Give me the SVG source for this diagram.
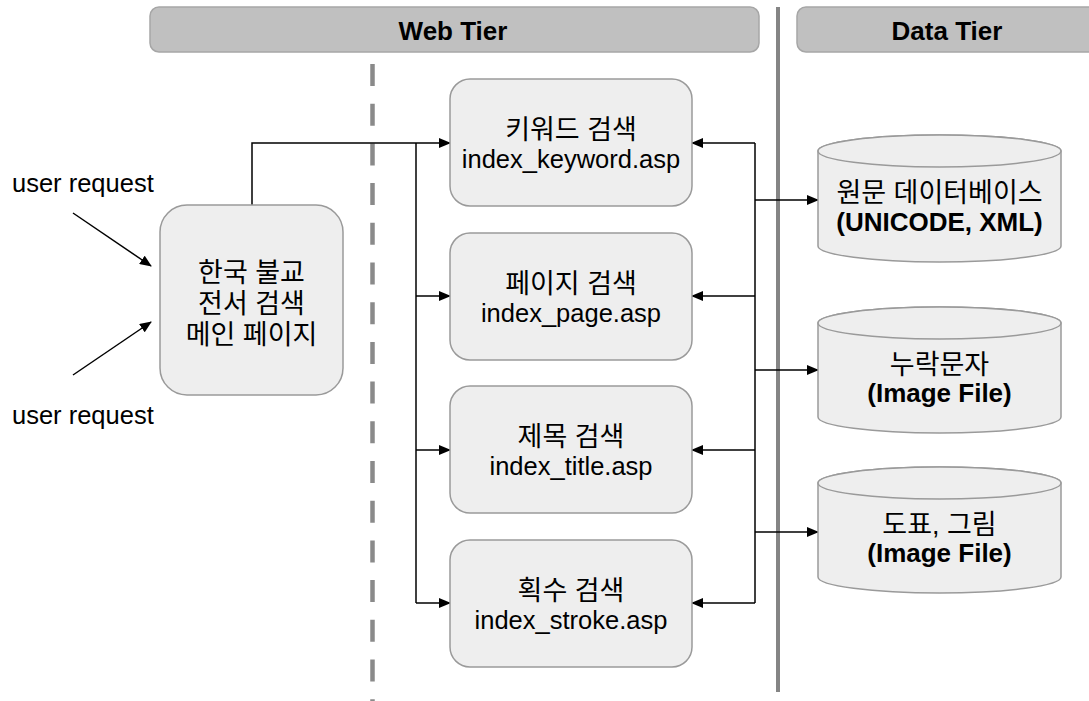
<svg xmlns="http://www.w3.org/2000/svg" width="1089" height="701" viewBox="0 0 1089 701">
<defs>
<style>
.bar{fill:#c0c0c0;stroke:#a6a6a6;stroke-width:1.5}
.hdr{font-family:"Liberation Sans",Arial,sans-serif;font-weight:bold;font-size:26px;fill:#000;text-anchor:middle}
.box{fill:#eeeeee;stroke:#9a9a9a;stroke-width:1.5}
.kt{font-family:"Liberation Sans","Noto Sans CJK KR",sans-serif;font-size:27px;fill:#000;text-anchor:middle}
.at{font-family:"Liberation Sans",Arial,sans-serif;font-size:25.5px;fill:#000;text-anchor:middle}
.bt{font-family:"Liberation Sans",Arial,sans-serif;font-weight:bold;font-size:26px;fill:#000;text-anchor:middle}
.ut{font-family:"Liberation Sans",Arial,sans-serif;font-size:25.5px;fill:#000}
.con{fill:none;stroke:#000;stroke-width:1.5}
</style>
<marker id="ah" markerWidth="12" markerHeight="10" refX="11" refY="5" orient="auto" markerUnits="userSpaceOnUse">
<path d="M0,0 L12,5 L0,10 Z" fill="#000"/>
</marker>
</defs>
<rect width="1089" height="701" fill="#fff"/>

<g id="headers">
<rect class="bar" x="150" y="7" width="609" height="45" rx="9"/>
<text class="hdr" x="453" y="40">Web Tier</text>
<rect class="bar" x="797" y="7" width="300" height="45" rx="9"/>
<text class="hdr" x="947" y="40">Data Tier</text>
</g>

<g id="separators">
<line x1="372.5" y1="64" x2="372.5" y2="701" stroke="#8a8a8a" stroke-width="4.5" stroke-dasharray="22 17.7"/>
<line x1="778" y1="7" x2="778" y2="692" stroke="#858585" stroke-width="4"/>
</g>

<g id="user-requests">
<text class="ut" x="12" y="192">user request</text>
<text class="ut" x="12" y="424">user request</text>
</g>

<g id="connectors">
<line class="con" x1="73" y1="213" x2="151" y2="266" marker-end="url(#ah)"/>
<line class="con" x1="73" y1="375" x2="151" y2="322" marker-end="url(#ah)"/>
<path class="con" d="M252,205 V143 H450" marker-end="url(#ah)"/>
<path class="con" d="M416,143 V603"/>
<path class="con" d="M416,296 H450" marker-end="url(#ah)"/>
<path class="con" d="M416,450 H450" marker-end="url(#ah)"/>
<path class="con" d="M416,603 H450" marker-end="url(#ah)"/>
<path class="con" d="M755,143 V603"/>
<path class="con" d="M755,143 H692" marker-end="url(#ah)"/>
<path class="con" d="M755,296 H692" marker-end="url(#ah)"/>
<path class="con" d="M755,450 H692" marker-end="url(#ah)"/>
<path class="con" d="M755,603 H692" marker-end="url(#ah)"/>
<path class="con" d="M755,200 H818" marker-end="url(#ah)"/>
<path class="con" d="M755,370 H818" marker-end="url(#ah)"/>
<path class="con" d="M755,532 H818" marker-end="url(#ah)"/>
</g>

<g id="main-page">
<rect class="box" x="160" y="205" width="183" height="190" rx="27"/>
<text class="kt" x="251.5" y="282">한국 불교</text>
<text class="kt" x="251.5" y="313">전서 검색</text>
<text class="kt" x="251.5" y="344">메인 페이지</text>
</g>

<g id="keyword">
<rect class="box" x="450" y="79" width="242" height="127" rx="20"/>
<text class="kt" x="571" y="138.5">키워드 검색</text>
<text class="at" x="571" y="168">index_keyword.asp</text>
</g>
<g id="page">
<rect class="box" x="450" y="233" width="242" height="127" rx="20"/>
<text class="kt" x="571" y="292.5">페이지 검색</text>
<text class="at" x="571" y="322">index_page.asp</text>
</g>
<g id="title">
<rect class="box" x="450" y="386" width="242" height="127" rx="20"/>
<text class="kt" x="571" y="445.5">제목 검색</text>
<text class="at" x="571" y="475">index_title.asp</text>
</g>
<g id="stroke">
<rect class="box" x="450" y="540" width="242" height="127" rx="20"/>
<text class="kt" x="571" y="599.5">획수 검색</text>
<text class="at" x="571" y="629">index_stroke.asp</text>
</g>

<g id="db-text">
<path class="box" d="M818,151 A121.5,16 0 0 1 1061,151 V246 A121.5,16 0 0 1 818,246 Z"/>
<ellipse class="box" cx="939.5" cy="151" rx="121.5" ry="16"/>
<text class="kt" x="939.5" y="202">원문 데이터베이스</text>
<text class="bt" x="939.5" y="231">(UNICODE, XML)</text>
</g>
<g id="db-missing">
<path class="box" d="M818,323 A121.5,16 0 0 1 1061,323 V417 A121.5,16 0 0 1 818,417 Z"/>
<ellipse class="box" cx="939.5" cy="323" rx="121.5" ry="16"/>
<text class="kt" x="939.5" y="374">누락문자</text>
<text class="bt" x="939.5" y="402">(Image File)</text>
</g>
<g id="db-figures">
<path class="box" d="M818,483 A121.5,16 0 0 1 1061,483 V577 A121.5,16 0 0 1 818,577 Z"/>
<ellipse class="box" cx="939.5" cy="483" rx="121.5" ry="16"/>
<text class="kt" x="939.5" y="534">도표, 그림</text>
<text class="bt" x="939.5" y="562">(Image File)</text>
</g>
</svg>
